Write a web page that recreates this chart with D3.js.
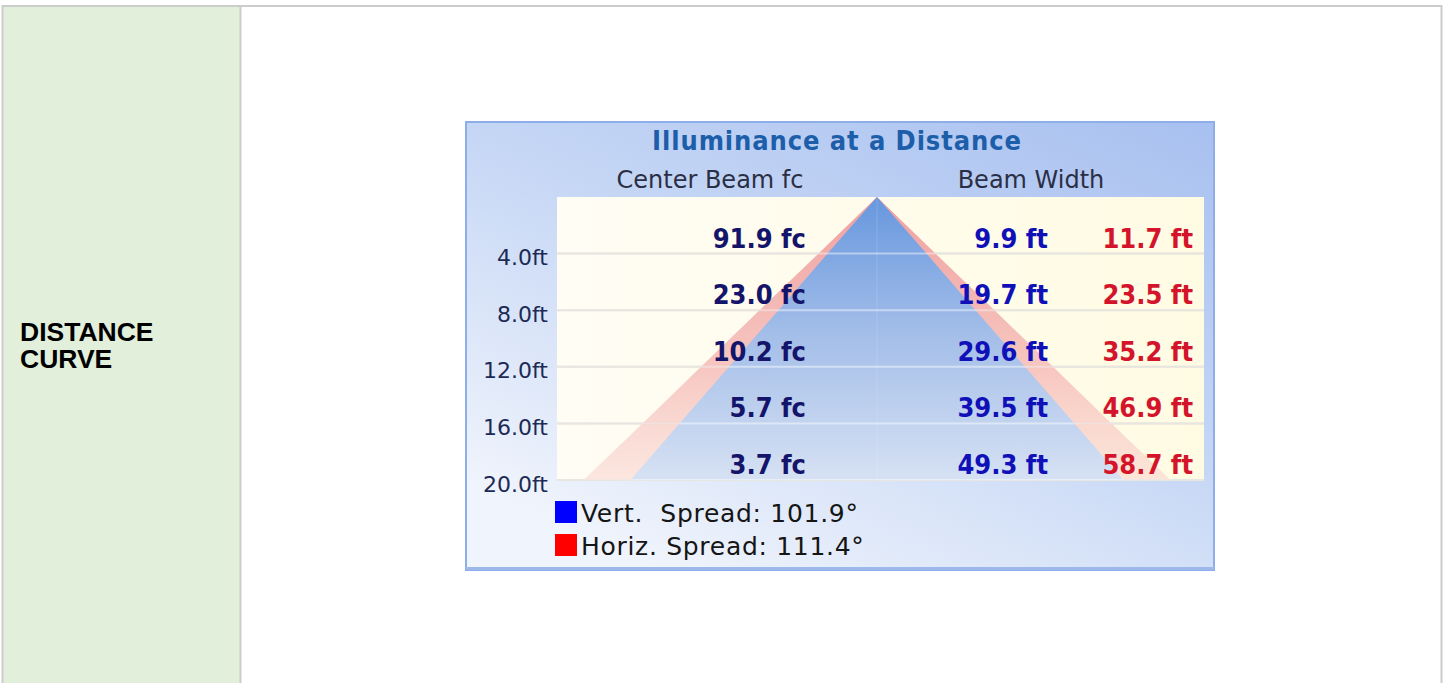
<!DOCTYPE html>
<html>
<head>
<meta charset="utf-8">
<script src="https://cdn.jsdelivr.net/npm/d3@7"></script>
<style>
  html, body { margin: 0; padding: 0; background: #ffffff; }
  svg { display: block; }
</style>
</head>
<body>
<svg id="chart" width="1445" height="683"></svg>
<script>
// ---- data ----
const distances   = [4, 8, 12, 16, 20];             // ft
const centerBeam  = [91.9, 23.0, 10.2, 5.7, 3.7];   // fc
const vertWidth   = [9.9, 19.7, 29.6, 39.5, 49.3];  // ft
const horizWidth  = [11.7, 23.5, 35.2, 46.9, 58.7]; // ft
const tickLabels  = ["4.0ft", "8.0ft", "12.0ft", "16.0ft", "20.0ft"];
const spreads     = [{name: "Vert.  Spread: ", value: 101.9, color: "#0000ff"},
                     {name: "Horiz. Spread: ", value: 111.4, color: "#ff0000"}];
const title       = "Illuminance at a Distance";
const colHeaders  = ["Center Beam fc", "Beam Width"];
const rowLabel    = ["DISTANCE", "CURVE"];

const svg = d3.select("#chart");
const defs = svg.append("defs");
const condensed = "DejaVu Sans Condensed, DejaVu Sans, sans-serif";
const normal = "DejaVu Sans, Verdana, sans-serif";

// ---- page table frame ----
svg.append("rect").attr("x", 3).attr("y", 7).attr("width", 237).attr("height", 690).attr("fill", "#e2efda");
svg.append("line").attr("x1", 2).attr("x2", 1442).attr("y1", 6).attr("y2", 6).attr("stroke", "#cccccc").attr("stroke-width", 2);
svg.append("line").attr("x1", 2.5).attr("x2", 2.5).attr("y1", 5).attr("y2", 683).attr("stroke", "#cccccc").attr("stroke-width", 2);
svg.append("line").attr("x1", 240.5).attr("x2", 240.5).attr("y1", 5).attr("y2", 683).attr("stroke", "#cccccc").attr("stroke-width", 2);
svg.append("line").attr("x1", 1441.5).attr("x2", 1441.5).attr("y1", 5).attr("y2", 683).attr("stroke", "#cccccc").attr("stroke-width", 2);

svg.append("text").attr("x", 20).attr("y", 341)
  .attr("font-family", "Liberation Sans, Arial, sans-serif").attr("font-weight", "bold")
  .attr("font-size", 26.5).attr("fill", "#000")
  .selectAll("tspan").data(rowLabel).join("tspan")
  .attr("x", 20).attr("dy", (d, i) => i ? 27 : 0).text(d => d);

// ---- chart panel ----
const P = {x: 466, y: 122, w: 748, h: 448};
const bg = defs.append("linearGradient").attr("id", "bg").attr("x1", "1").attr("y1", "0").attr("x2", "0.25").attr("y2", "1");
bg.append("stop").attr("offset", "0").attr("stop-color", "#a8c0f0");
bg.append("stop").attr("offset", "0.5").attr("stop-color", "#c6d7f5");
bg.append("stop").attr("offset", "1").attr("stop-color", "#f0f4fc");
svg.append("rect").attr("x", P.x).attr("y", P.y).attr("width", P.w).attr("height", P.h)
  .attr("fill", "url(#bg)").attr("stroke", "#8eaee9").attr("stroke-width", 2);
svg.append("rect").attr("x", P.x).attr("y", P.y + P.h - 3).attr("width", P.w).attr("height", 3).attr("fill", "#9db8ea");

// plot area
const plot = {x0: 557, x1: 1204, y0: 197, y1: 480};
const y = d3.scaleLinear().domain([0, 20]).range([plot.y0, plot.y1]);
const x = d3.scaleLinear().domain([-32.2, 32.2]).range([plot.x0 - 2, plot.x1 - 5]);

const cream = defs.append("linearGradient").attr("id", "cream").attr("x1", "0").attr("x2", "1").attr("y1", "0").attr("y2", "0");
cream.append("stop").attr("offset", "0").attr("stop-color", "#fffdf4");
cream.append("stop").attr("offset", "1").attr("stop-color", "#fffbe3");
svg.append("rect").attr("x", plot.x0).attr("y", plot.y0).attr("width", plot.x1 - plot.x0).attr("height", plot.y1 - plot.y0)
  .attr("fill", "url(#cream)");

// center vertical line
svg.append("line").attr("x1", x(0)).attr("x2", x(0)).attr("y1", plot.y0).attr("y2", plot.y1)
  .attr("stroke", "#d2d2cc").attr("stroke-width", 1);

// grid lines (under)
svg.append("g").selectAll("line").data(distances).join("line")
  .attr("x1", plot.x0).attr("x2", plot.x1).attr("y1", d => y(d)).attr("y2", d => y(d))
  .attr("stroke", "#d4d2c6").attr("stroke-width", 2);

// beam triangles from data
function beamPoints(widths) {
  const right = widths.map((w, i) => [w / 2, distances[i]]);
  const left = widths.map((w, i) => [-w / 2, distances[i]]).reverse();
  return [[0, 0], ...right, ...left];
}
const poly = d3.line().x(d => x(d[0])).y(d => y(d[1]));

const redG = defs.append("linearGradient").attr("id", "redG").attr("x1", "0").attr("x2", "0").attr("y1", "0").attr("y2", "1");
redG.append("stop").attr("offset", "0").attr("stop-color", "#ee9a9a").attr("stop-opacity", 0.95);
redG.append("stop").attr("offset", "0.6").attr("stop-color", "#f4b4b2").attr("stop-opacity", 0.75);
redG.append("stop").attr("offset", "1").attr("stop-color", "#f8d0cc").attr("stop-opacity", 0.5);
const blueG = defs.append("linearGradient").attr("id", "blueG").attr("x1", "0").attr("x2", "0").attr("y1", "0").attr("y2", "1");
blueG.append("stop").attr("offset", "0").attr("stop-color", "#6797de");
blueG.append("stop").attr("offset", "0.5").attr("stop-color", "#a5bfe9");
blueG.append("stop").attr("offset", "1").attr("stop-color", "#d6e1f3");

svg.append("path").attr("d", poly(beamPoints(horizWidth)) + "Z").attr("fill", "url(#redG)");
svg.append("path").attr("d", poly(beamPoints(vertWidth)) + "Z").attr("fill", "url(#blueG)");

// grid lines (over, light)
svg.append("g").selectAll("line").data(distances).join("line")
  .attr("x1", plot.x0).attr("x2", plot.x1).attr("y1", d => y(d)).attr("y2", d => y(d))
  .attr("stroke", "#ffffff").attr("stroke-opacity", 0.45).attr("stroke-width", 2);
svg.append("line").attr("x1", x(0)).attr("x2", x(0)).attr("y1", plot.y0).attr("y2", plot.y1)
  .attr("stroke", "#ffffff").attr("stroke-opacity", 0.15);

// y axis labels
const axis = d3.axisLeft(y).tickValues(distances).tickSize(0).tickPadding(9)
  .tickFormat((d, i) => tickLabels[i]);
const ax = svg.append("g").attr("transform", `translate(${plot.x0},4)`).call(axis);
ax.select(".domain").remove();
ax.selectAll("text").attr("font-family", normal)
  .attr("font-size", 22).attr("fill", "#1c2a55");

// title & headers
svg.append("text").attr("x", 837).attr("y", 150).attr("text-anchor", "middle")
  .attr("font-family", condensed).attr("font-weight", "bold").attr("letter-spacing", 0.9)
  .attr("font-size", 27).attr("fill", "#1c5ea9").text(title);
svg.append("text").attr("x", 710).attr("y", 188).attr("text-anchor", "middle")
  .attr("font-family", normal)
  .attr("font-size", 24).attr("fill", "#2b2f45").text(colHeaders[0]);
svg.append("text").attr("x", 1031).attr("y", 188).attr("text-anchor", "middle")
  .attr("font-family", normal)
  .attr("font-size", 24).attr("fill", "#2b2f45").text(colHeaders[1]);

// row values
const rows = svg.append("g").attr("font-family", condensed)
  .attr("font-weight", "bold").attr("font-size", 27).attr("text-anchor", "end");
rows.selectAll("text.fc").data(centerBeam).join("text").attr("class", "fc")
  .attr("x", 806).attr("y", (d, i) => y(distances[i]) - 6).attr("fill", "#14146a")
  .text(d => d.toFixed(1) + " fc");
rows.selectAll("text.vw").data(vertWidth).join("text").attr("class", "vw")
  .attr("x", 1048).attr("y", (d, i) => y(distances[i]) - 6).attr("fill", "#1010b8")
  .text(d => d.toFixed(1) + " ft");
rows.selectAll("text.hw").data(horizWidth).join("text").attr("class", "hw")
  .attr("x", 1193).attr("y", (d, i) => y(distances[i]) - 6).attr("fill", "#d4142a")
  .text(d => d.toFixed(1) + " ft");

// legend
const leg = svg.append("g").selectAll("g").data(spreads).join("g")
  .attr("transform", (d, i) => `translate(555,${501 + i * 33})`);
leg.append("rect").attr("width", 22).attr("height", 22).attr("fill", d => d.color);
leg.append("text").attr("x", 26).attr("y", 21)
  .attr("font-family", normal).attr("letter-spacing", 0.7)
  .attr("font-size", 25).attr("fill", "#151515")
  .style("white-space", "pre")
  .text(d => d.name + d.value.toFixed(1) + "°");
</script>
</body>
</html>
